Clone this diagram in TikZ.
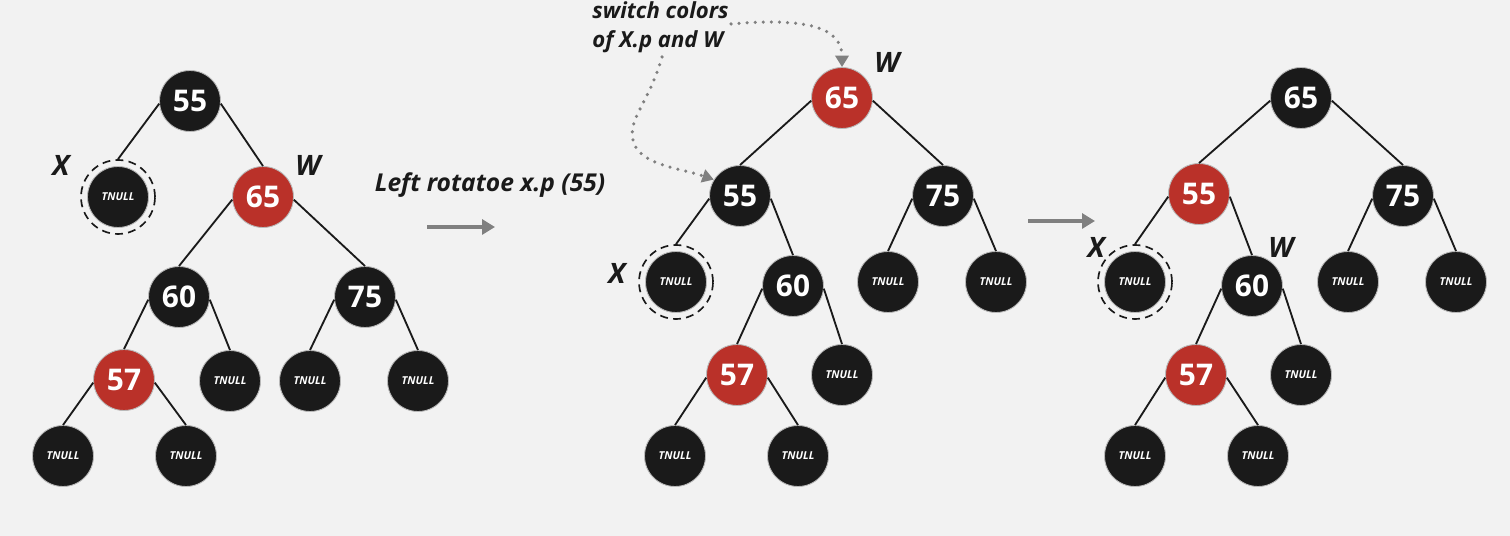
\documentclass[tikz,border=0pt]{standalone}
\usepackage{fontspec}
\setmainfont{Open Sans}
\usetikzlibrary{arrows.meta}
\definecolor{bg}{HTML}{F2F2F2}
\definecolor{nodeblk}{HTML}{1A1A1A}
\definecolor{nodered}{HTML}{BA3129}
\definecolor{arrgray}{HTML}{808080}
\begin{document}
\begin{tikzpicture}[x=0.02cm,y=-0.02cm,
  bnode/.style={circle, fill=nodeblk, draw=gray!55, line width=0.5pt, minimum size=1.22cm, inner sep=0pt, text=white, font=\bfseries\fontsize{17}{17}\selectfont},
  rnode/.style={bnode, fill=nodered},
  tnull/.style={bnode, font=\bfseries\itshape\fontsize{6.2}{7}\selectfont},
  xring/.style={circle, draw=nodeblk, dash pattern=on 4.5pt off 3pt, line width=0.95pt, minimum size=1.48cm, inner sep=0pt},
  edge/.style={draw=nodeblk, line width=1.05pt},
  lbl/.style={font=\bfseries\itshape\fontsize{16}{16}\selectfont, text=nodeblk, inner sep=0pt},
  note/.style={font=\bfseries\itshape\fontsize{12.6}{16}\selectfont, text=nodeblk, inner sep=0pt},
  garrow/.style={draw=arrgray, line width=2.1pt, -{Triangle[length=7.4pt,width=8.5pt]}},
  dotarrow/.style={draw=arrgray, line width=2pt, line cap=round, dash pattern=on 0pt off 4.6pt, -{Triangle[length=6.5pt,width=7.5pt]}}
]
\useasboundingbox[fill=bg] (0,0) rectangle (1510,536);

% ---------- left tree ----------
\node[bnode] (a55) at (190,101) {55};
\node[tnull] (ax) at (118,197) {TNULL};
\node[xring] (axr) at (118,197) {};
\node[rnode] (a65) at (263,197) {65};
\node[bnode] (a60) at (179,297) {60};
\node[bnode] (a75) at (365,297) {75};
\node[rnode] (a57) at (124,380) {57};
\node[tnull] (at1) at (230,381) {TNULL};
\node[tnull] (at2) at (310,381) {TNULL};
\node[tnull] (at3) at (418,381) {TNULL};
\node[tnull] (at4) at (63,456) {TNULL};
\node[tnull] (at5) at (186,456) {TNULL};
\node[lbl] (axl) at (61,165) {X};
\node[lbl] (awl) at (308,165) {W};

\draw[edge] (a55.185) -- (axr.north);
\draw[edge] (a55.-5) -- (a65.north);
\draw[edge] (a65.185) -- (a60.north);
\draw[edge] (a65.-5) -- (a75.north);
\draw[edge] (a60.185) -- (a57.north);
\draw[edge] (a60.-5) -- (at1.north);
\draw[edge] (a75.185) -- (at2.north);
\draw[edge] (a75.-5) -- (at3.north);
\draw[edge] (a57.185) -- (at4.north);
\draw[edge] (a57.-5) -- (at5.north);

% ---------- first arrow ----------
\node[note, font=\bfseries\itshape\fontsize{14}{16}\selectfont] (rot) at (490,185) {Left rotatoe x.p (55)};
\coordinate (r1s) at (427,227);
\coordinate (r1e) at (495,227);
\draw[garrow] (r1s) -- (r1e);

% ---------- middle tree ----------
\node[rnode] (b65) at (842,98) {65};
\node[bnode] (b55) at (740,196) {55};
\node[bnode] (b75) at (943,196) {75};
\node[tnull] (bx) at (676,282) {TNULL};
\node[xring] (bxr) at (676,282) {};
\node[bnode] (b60) at (793,286) {60};
\node[tnull] (bt1) at (888,282) {TNULL};
\node[tnull] (bt2) at (996,282) {TNULL};
\node[rnode] (b57) at (737,375) {57};
\node[tnull] (bt3) at (842,375) {TNULL};
\node[tnull] (bt4) at (675,456) {TNULL};
\node[tnull] (bt5) at (798,456) {TNULL};
\node[lbl] (bxl) at (617,273) {X};
\node[lbl] (bwl) at (887,62) {W};

\draw[edge] (b65.185) -- (b55.north);
\draw[edge] (b65.-5) -- (b75.north);
\draw[edge] (b55.185) -- (bxr.north);
\draw[edge] (b55.-5) -- (b60.north);
\draw[edge] (b75.185) -- (bt1.north);
\draw[edge] (b75.-5) -- (bt2.north);
\draw[edge] (b60.185) -- (b57.north);
\draw[edge] (b60.-5) -- (bt3.north);
\draw[edge] (b57.185) -- (bt4.north);
\draw[edge] (b57.-5) -- (bt5.north);

% note
\node[note, anchor=base west] (sw1) at (592,19) {switch colors};
\node[note, anchor=base west] (sw2) at (592,48) {of X.p and W};
\coordinate (d1s) at (731,24);
\coordinate (d2s) at (662,57);
\draw[dotarrow] (d1s) .. controls (800,18) and (842,25) .. (b65.north);
\draw[dotarrow] (d2s) .. controls (648,105) and (628,118) .. (633,140) .. controls (638,165) and (680,168) .. (b55.148);

% ---------- second arrow ----------
\coordinate (r2s) at (1028,221);
\coordinate (r2e) at (1095,221);
\draw[garrow] (r2s) -- (r2e);

% ---------- right tree ----------
\node[bnode] (c65) at (1301,98) {65};
\node[rnode] (c55) at (1199,194) {55};
\node[bnode] (c75) at (1403,196) {75};
\node[tnull] (cx) at (1135,282) {TNULL};
\node[xring] (cxr) at (1135,282) {};
\node[bnode] (c60) at (1252,286) {60};
\node[tnull] (ct1) at (1348,282) {TNULL};
\node[tnull] (ct2) at (1456,282) {TNULL};
\node[rnode] (c57) at (1196,375) {57};
\node[tnull] (ct3) at (1301,375) {TNULL};
\node[tnull] (ct4) at (1135,456) {TNULL};
\node[tnull] (ct5) at (1258,456) {TNULL};
\node[lbl] (cxl) at (1096,247) {X};
\node[lbl] (cwl) at (1281,247) {W};

\draw[edge] (c65.185) -- (c55.north);
\draw[edge] (c65.-5) -- (c75.north);
\draw[edge] (c55.185) -- (cxr.north);
\draw[edge] (c55.-5) -- (c60.north);
\draw[edge] (c75.185) -- (ct1.north);
\draw[edge] (c75.-5) -- (ct2.north);
\draw[edge] (c60.185) -- (c57.north);
\draw[edge] (c60.-5) -- (ct3.north);
\draw[edge] (c57.185) -- (ct4.north);
\draw[edge] (c57.-5) -- (ct5.north);
\end{tikzpicture}
\end{document}
